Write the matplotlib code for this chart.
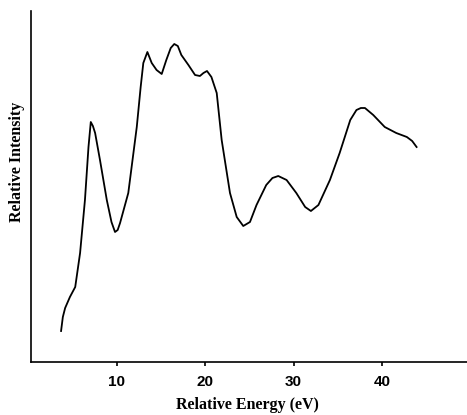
import numpy as np
import matplotlib
matplotlib.use("Agg")
import matplotlib.pyplot as plt

# spectrum (energy in eV, intensity in arbitrary units)
energy = [3.7, 3.9, 4.16, 4.7, 5.3, 5.85, 6.4, 6.8, 7.06, 7.3, 7.55, 8.1, 8.87, 9.4, 9.8,
          10.1, 10.37, 11.3, 12.26, 12.7, 13.0, 13.46, 13.95, 14.5, 15.08, 15.6, 16.1, 16.5,
          16.9, 17.3, 18.1, 18.85, 19.4, 19.8, 20.2, 20.7, 21.3, 21.86, 22.8, 23.56,
          24.3, 25.06, 25.8, 26.9, 27.6, 28.26, 29.2, 30.3, 31.3, 31.95, 32.8, 34.1,
          35.2, 36.4, 37.1, 37.6, 38.06, 39.0, 40.3, 41.6, 42.8, 43.4, 43.9]
intensity = [31, 45, 54, 65, 75, 109, 162, 215, 240, 236, 229, 202, 162, 140, 130,
             132, 139, 169, 235, 275, 299, 310, 299, 292, 288, 302, 314, 318,
             316, 307, 297, 287, 286, 289, 291, 285, 269, 222, 169, 145,
             136, 140, 157, 177, 184, 186, 182, 169, 155, 151, 157, 182,
             209, 242, 252, 254, 254, 247, 235, 229, 225, 221, 215]

xticks = [10, 20, 30, 40]

fig = plt.figure(figsize=(4.67, 4.15), dpi=100)
ax = fig.add_axes([31/467, 53/415, 436/467, 351/415])

ax.plot(energy, intensity, color="black", lw=1.3)

ax.set_xlim(0.3, 49.6)
ax.set_ylim(0, 351)
ax.spines["top"].set_visible(False)
ax.spines["right"].set_visible(False)
ax.spines["left"].set_linewidth(1.2)
ax.spines["bottom"].set_linewidth(1.2)
ax.set_yticks([])
ax.set_xticks(xticks)
ax.set_xticklabels([str(t) for t in xticks], fontfamily="Liberation Sans",
                   fontsize=11, fontweight="bold")
ax.tick_params(axis="x", direction="out", length=3, width=1.2, pad=6)

fig.text(0.5 + 14/467, 1 - 405/415, "Relative Energy (eV)", ha="center", va="center",
         fontfamily="Liberation Serif", fontweight="bold", fontsize=11.5)
fig.text(17/467, 1 - 162/415, "Relative Intensity", ha="center", va="center", rotation=90,
         fontfamily="Liberation Serif", fontweight="bold", fontsize=11.5)

fig.savefig("out.png", dpi=100)
